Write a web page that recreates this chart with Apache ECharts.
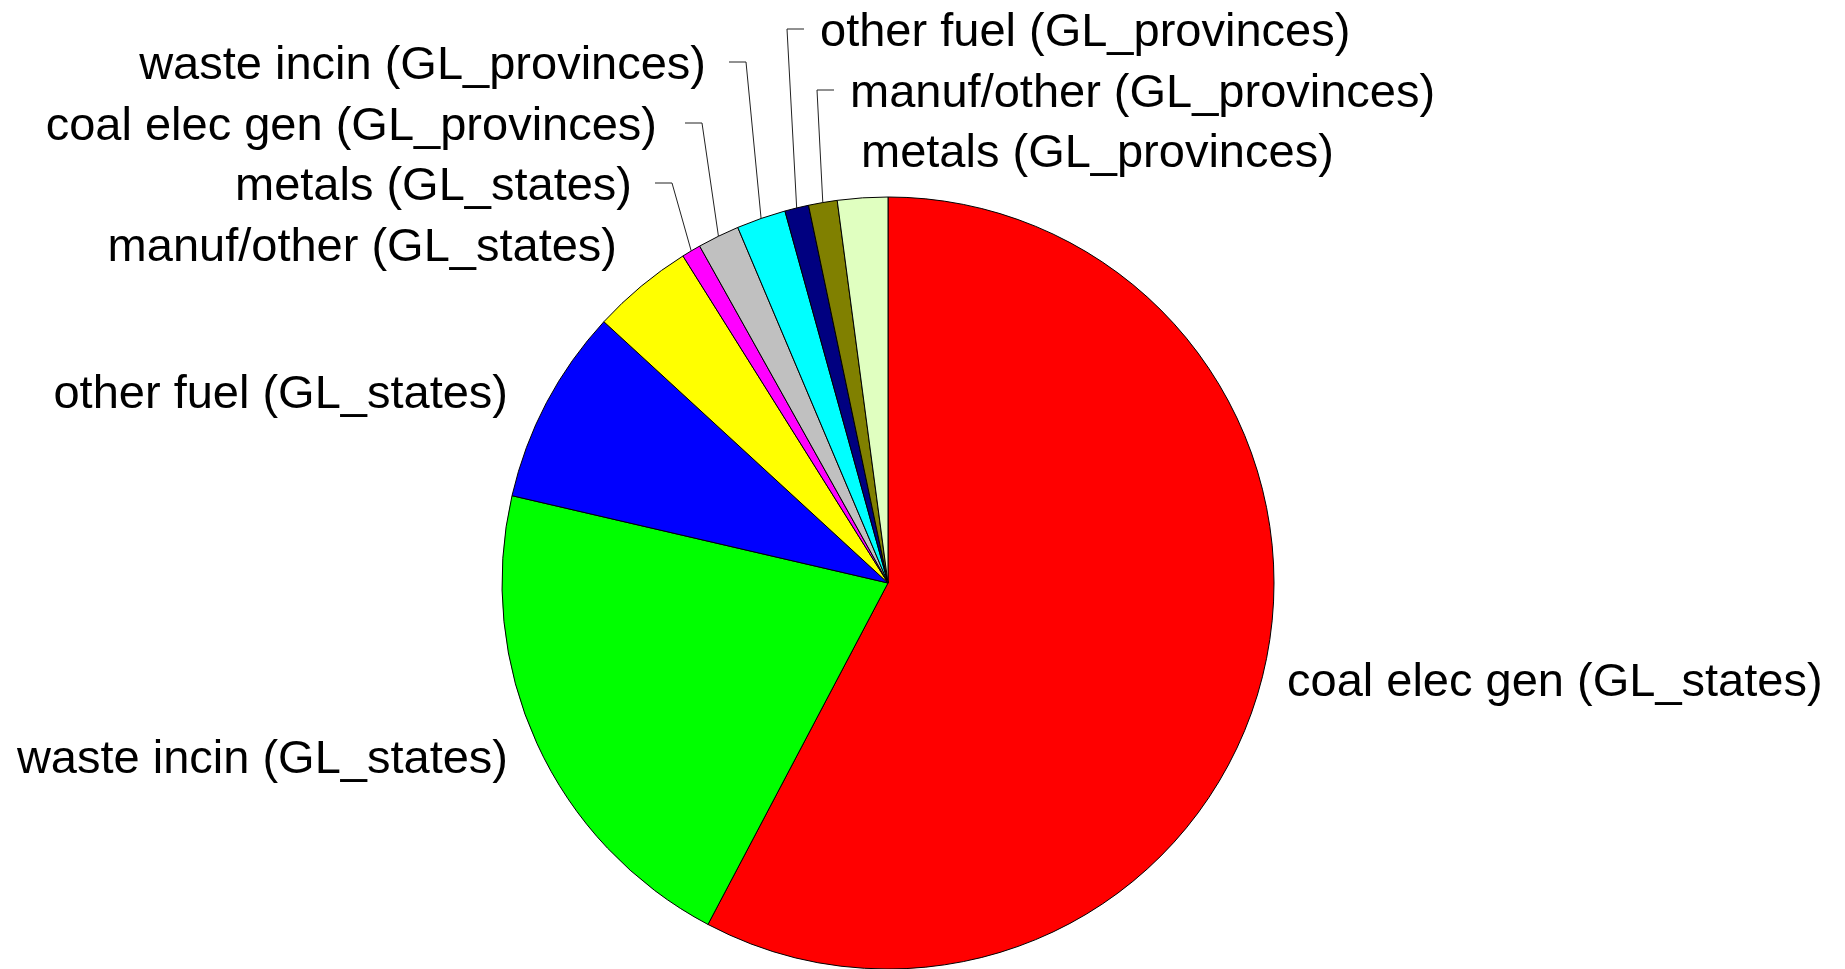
<!DOCTYPE html>
<html>
<head>
<meta charset="utf-8">
<script src="https://cdn.jsdelivr.net/npm/echarts@6/dist/echarts.min.js"></script>
<style>
html,body{margin:0;padding:0;background:#fff;}
#chart{width:1845px;height:969px;}
</style>
</head>
<body>
<div id="chart"></div>
<script>
// ---- data ----
const categories = [
  'coal elec gen (GL_states)',
  'waste incin (GL_states)',
  'other fuel (GL_states)',
  'manuf/other (GL_states)',
  'metals (GL_states)',
  'coal elec gen (GL_provinces)',
  'waste incin (GL_provinces)',
  'other fuel (GL_provinces)',
  'manuf/other (GL_provinces)',
  'metals (GL_provinces)'
];
const values = [57.7, 20.9, 8.2, 4.25, 0.8, 1.75, 2.06, 1.0, 1.2, 2.1];

// ---- styles / layout (kept apart from data) ----
const colors = ['#FF0000','#00FF00','#0000FF','#FFFF00','#FF00FF','#C0C0C0','#00FFFF','#000080','#808000','#E0FFC0'];
const pieCenter = [888, 583];
const pieRadius = 386;
// label placement: align, anchor x, centre y, elbow x of leader line (null = no leader)
const labelPlacement = [
  {align:'left',  x:1287, y:683, elbow:null},
  {align:'right', x:508,  y:760, elbow:null},
  {align:'right', x:508,  y:395, elbow:null},
  {align:'right', x:617,  y:248, elbow:null},
  {align:'right', x:632,  y:187, elbow:672},
  {align:'right', x:657,  y:127, elbow:702},
  {align:'right', x:706,  y:66,  elbow:746},
  {align:'left',  x:820,  y:33,  elbow:787},
  {align:'left',  x:850,  y:94,  elbow:817},
  {align:'left',  x:861,  y:154, elbow:null}
];

const chart = echarts.init(document.getElementById('chart'), null, {renderer:'canvas'});
const data = categories.map((name, i) => ({
  name: name,
  value: values[i],
  itemStyle: {color: colors[i]},
  labelLine: {show: labelPlacement[i].elbow != null}
}));

chart.setOption({
  animation: false,
  backgroundColor: '#ffffff',
  series: [{
    type: 'pie',
    center: pieCenter,
    radius: pieRadius,
    startAngle: 90,
    clockwise: true,
    avoidLabelOverlap: false,
    itemStyle: {borderColor: '#000', borderWidth: 1},
    label: {
      show: true,
      position: 'outside',
      formatter: '{b}',
      fontSize: 47,
      fontFamily: '"Liberation Sans", Arial, sans-serif',
      color: '#000'
    },
    labelLine: {
      show: true,
      length: 20,
      length2: 20,
      lineStyle: {color: '#222', width: 1}
    },
    emphasis: {disabled: true},
    labelLayout: function (p) {
      const L = labelPlacement[p.dataIndex];
      const res = {x: L.x, y: L.y, align: L.align, verticalAlign: 'middle'};
      if (L.elbow != null && p.labelLinePoints) {
        const p0 = p.labelLinePoints[0];
        const ey = L.y - 4;
        const dir = L.align === 'right' ? -1 : 1;
        res.labelLinePoints = [[p0[0], p0[1]], [L.elbow, ey], [L.elbow + dir * 17, ey]];
      }
      return res;
    },
    data: data
  }]
});
</script>
</body>
</html>
